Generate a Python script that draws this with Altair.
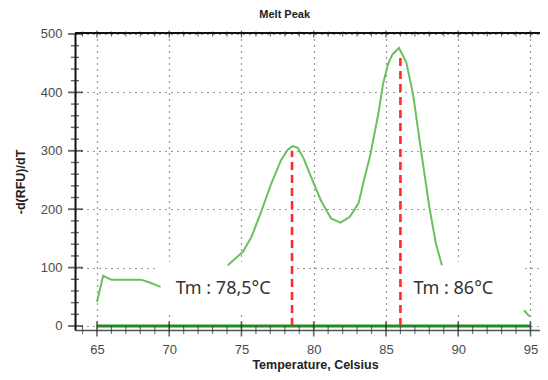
import altair as alt
import pandas as pd

# ---- data ----
seg1_t = [65.0, 65.43, 66.0, 68.05, 68.6, 69.4]
seg1_v = [41, 86, 79, 79, 75, 67]

seg2_t = [74.05, 75.1, 75.7, 76.4, 77.06, 77.74, 78.2, 78.54, 78.9, 79.3, 79.9,
          80.5, 81.2, 81.85, 82.5, 83.1, 83.45, 83.9, 84.47, 84.8, 85.15, 85.45,
          85.9, 86.4, 86.87, 87.44, 88.0, 88.46, 88.87]
seg2_v = [104, 127, 153, 198, 244, 284, 302, 308, 305, 287, 250,
          215, 184, 177, 187, 210, 247, 291, 363, 415, 449, 465,
          476, 452, 398, 298, 204, 141, 104]

seg3_t = [94.55, 94.95]
seg3_v = [27, 16]

base_t = [65, 95]
base_v = [0, 0]

tm_t = [78.5, 86.0]
tm_peak = [300, 467]
tm_labels = ["Tm : 78,5°C", "Tm : 86°C"]
label_t = [70.45, 86.9]
label_v = [64, 64]

# white label boxes of the original (they hide grid lines)
box_t1 = [69.2, 85.94]
box_t2 = [78.75, 94.5]
box_v1 = [22, 22]
box_v2 = [110, 110]

x_major = [65, 70, 75, 80, 85, 90, 95]
y_major = [0, 100, 200, 300, 400, 500]
x_minor = [t for t in range(64, 96) if t % 5 != 0]
y_minor = [v for v in range(0, 501, 20) if v % 100 != 0]

W, H = 465, 297

curve = pd.DataFrame({
    "t": seg1_t + seg2_t + seg3_t,
    "v": seg1_v + seg2_v + seg3_v,
    "seg": ["a"] * len(seg1_t) + ["b"] * len(seg2_t) + ["c"] * len(seg3_t),
})
base = pd.DataFrame({"t": base_t, "v": base_v})
tm = pd.DataFrame({"t": tm_t, "peak": tm_peak, "zero": [0, 0]})
labels = pd.DataFrame({"t": label_t, "v": label_v, "label": tm_labels})
boxes = pd.DataFrame({"t1": box_t1, "t2": box_t2, "v1": box_v1, "v2": box_v2})
xmin = pd.DataFrame({"t": x_minor})
xmaj = pd.DataFrame({"t": x_major})
ymin = pd.DataFrame({"v": y_minor})
ymaj = pd.DataFrame({"v": y_major})

xs = alt.Scale(domain=[63.48, 95.66], nice=False, zero=False)
ys = alt.Scale(domain=[-6.85, 501.7], nice=False, zero=False)

FONT = "Liberation Sans"

x_axis = alt.Axis(values=x_major, grid=True, gridColor="#333", gridDash=[1, 5],
                  gridWidth=1.2, ticks=False, labelPadding=13, labelFontSize=13,
                  labelColor="#4a4a4a", labelFont=FONT, domainColor="#555",
                  domainWidth=1.6, title="Temperature, Celsius", titleFont=FONT,
                  titleFontSize=12.5, titleFontWeight="bold", titleColor="#222",
                  titleX=240, titlePadding=2)
y_axis = alt.Axis(values=y_major, grid=True, gridColor="#333", gridDash=[1, 5],
                  gridWidth=1.2, ticks=False, labelPadding=13, labelFontSize=13,
                  labelColor="#4a4a4a", labelFont=FONT, domainColor="#111",
                  domainWidth=2, title="-d(RFU)/dT", titleFont=FONT,
                  titleFontSize=12.5, titleFontWeight="bold", titleColor="#222",
                  titlePadding=13)

boxes_l = alt.Chart(boxes).mark_rect(color="white").encode(
    x=alt.X("t1:Q", scale=xs, axis=x_axis), x2="t2",
    y=alt.Y("v1:Q", scale=ys, axis=y_axis), y2="v2")

curve_l = alt.Chart(curve).mark_line(color="#6cbf5f", strokeWidth=2).encode(
    x=alt.X("t:Q", scale=xs), y=alt.Y("v:Q", scale=ys), detail="seg:N")

base_l = alt.Chart(base).mark_line(color="#1f8c24", strokeWidth=3.2).encode(
    x=alt.X("t:Q", scale=xs), y=alt.Y("v:Q", scale=ys))

tm_l = alt.Chart(tm).mark_rule(color="#ff2a2a", strokeWidth=2.6, strokeDash=[8, 5]).encode(
    x=alt.X("t:Q", scale=xs), y=alt.Y("zero:Q", scale=ys), y2="peak")

text_l = alt.Chart(labels).mark_text(align="left", baseline="middle", font="Noto Sans",
                                     fontSize=18, color="#333").encode(
    x=alt.X("t:Q", scale=xs), y=alt.Y("v:Q", scale=ys), text="label:N")

xminor_l = alt.Chart(xmin).mark_tick(orient="vertical", size=8, thickness=1.2, color="#333").encode(
    x=alt.X("t:Q", scale=xs), y=alt.value(H))
xmajor_l = alt.Chart(xmaj).mark_tick(orient="vertical", size=15, thickness=1.6, color="#222").encode(
    x=alt.X("t:Q", scale=xs), y=alt.value(H - 1))
xtop_l = alt.Chart(xmin).mark_tick(orient="vertical", size=5, thickness=1.2, color="#333").encode(
    x=alt.X("t:Q", scale=xs), y=alt.value(1))
xtopmaj_l = alt.Chart(xmaj).mark_tick(orient="vertical", size=7, thickness=1.4, color="#333").encode(
    x=alt.X("t:Q", scale=xs), y=alt.value(1))
yminor_l = alt.Chart(ymin).mark_tick(orient="horizontal", size=8, thickness=1.4, color="#222").encode(
    y=alt.Y("v:Q", scale=ys), x=alt.value(0))
ymajor_l = alt.Chart(ymaj).mark_tick(orient="horizontal", size=15, thickness=1.8, color="#222").encode(
    y=alt.Y("v:Q", scale=ys), x=alt.value(0.5))
top_l = alt.Chart(base).mark_rule(color="#111", strokeWidth=2).encode(
    x=alt.value(0), x2=alt.value(W), y=alt.value(0))

chart = alt.layer(
    boxes_l, curve_l, base_l, tm_l, text_l,
    xminor_l, xmajor_l, xtop_l, xtopmaj_l, yminor_l, ymajor_l, top_l
).properties(
    width=W, height=H,
    padding={"left": 67, "top": 25, "right": 0, "bottom": 42},
    autosize=alt.AutoSizeParams(type="none"),
    title=alt.Title("Melt Peak", font=FONT, fontSize=11, fontWeight="bold",
                    color="#222", anchor="start", dx=245, offset=8),
).configure_view(stroke="transparent", strokeWidth=0)

chart.save("out.html", embed_options={"renderer": "svg", "actions": False})
